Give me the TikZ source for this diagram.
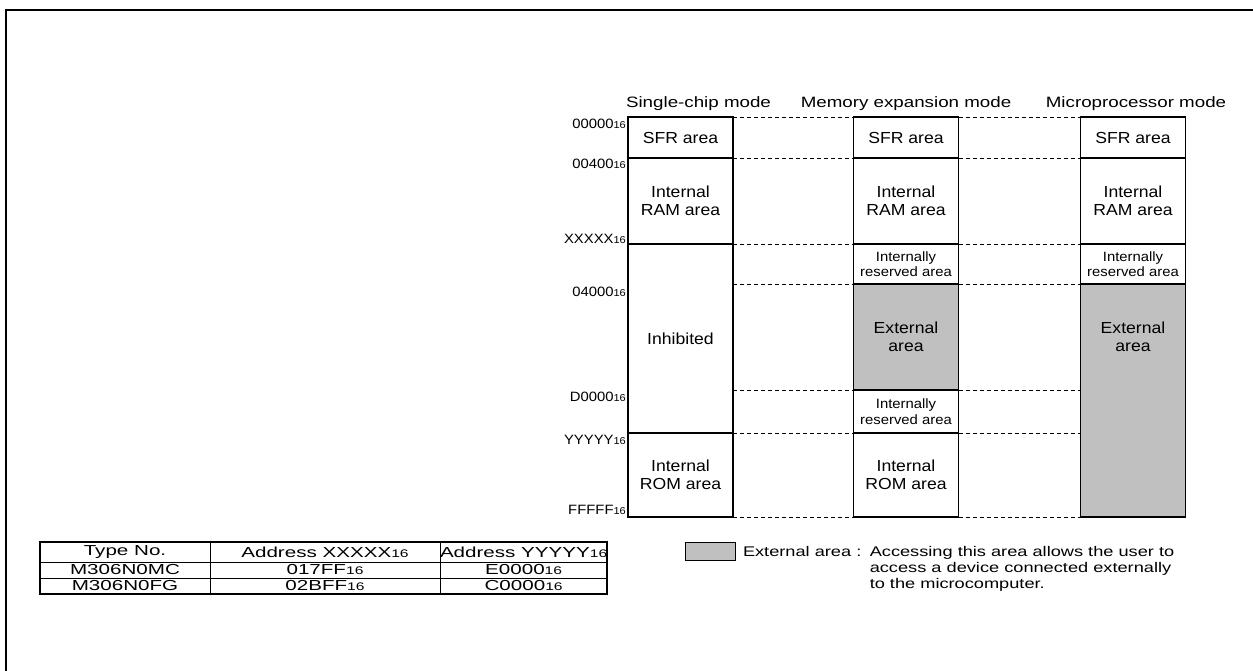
\documentclass[tikz,border=0pt]{standalone}
\usepackage{fontspec}
\setmainfont{Liberation Sans}[FakeStretch=1.1]
\newfontfamily\hdrfont{Liberation Sans}[FakeStretch=1.25]
\newfontfamily\tablefont{Liberation Sans}[FakeStretch=1.42]
\newfontfamily\keyfont{Liberation Sans}[FakeStretch=1.3]
\usetikzlibrary{positioning}
\definecolor{extgray}{RGB}{192,192,192}
\newcommand{\sixteen}[1][10]{{\fontsize{#1}{#1}\selectfont 16}}

\begin{document}
\begin{tikzpicture}[
    x=1pt, y=-1pt,
    cell/.style={draw, line width=1.2pt, outer sep=0pt, inner sep=0pt,
                 minimum width=105pt, align=center,
                 font=\fontsize{16}{18}\selectfont},
    rescell/.style={cell, font=\fontsize{13.5}{15.5}\selectfont},
    extcell/.style={cell, fill=extgray},
    guide/.style={dashed, dash pattern=on 4pt off 3pt, line width=0.6pt},
    addr/.style={anchor=east, inner sep=0pt, font=\fontsize{13.5}{13.5}\selectfont},
    hdr/.style={anchor=base, inner sep=0pt, font=\hdrfont\fontsize{15}{15}\selectfont},
    tcell/.style={draw, line width=0.8pt, outer sep=0pt, inner sep=0pt,
                  font=\tablefont\fontsize{14.5}{14.5}\selectfont},
    keytext/.style={inner sep=0pt, font=\keyfont\fontsize{14}{16}\selectfont},
]
\useasboundingbox (0,0) rectangle (1253,671);

% frame
\draw[line width=2pt] (6,671) -- (6,10) -- (1253,10);

% single-chip mode
\node[cell, minimum height=41pt] (sfr1) at (680.5,137.5) {SFR area};
\node[cell, minimum height=86pt, below=0pt of sfr1] (ram1) {Internal\\RAM area};
\node[cell, minimum height=189pt, below=0pt of ram1] (inh1) {Inhibited};
\node[cell, minimum height=84pt, below=0pt of inh1] (rom1) {Internal\\ROM area};

% memory expansion mode
\node[cell, minimum height=41pt, right=120.5pt of sfr1] (sfr2) {SFR area};
\node[cell, minimum height=86pt, below=0pt of sfr2] (ram2) {Internal\\RAM area};
\node[rescell, minimum height=40pt, below=0pt of ram2] (res2a) {Internally\\reserved area};
\node[extcell, minimum height=106pt, below=0pt of res2a] (ext2) {External\\area};
\node[rescell, minimum height=43pt, below=0pt of ext2] (res2b) {Internally\\reserved area};
\node[cell, minimum height=84pt, below=0pt of res2b] (rom2) {Internal\\ROM area};

% microprocessor mode
\node[cell, minimum height=41pt, right=122pt of sfr2] (sfr3) {SFR area};
\node[cell, minimum height=86pt, below=0pt of sfr3] (ram3) {Internal\\RAM area};
\node[rescell, minimum height=40pt, below=0pt of ram3] (res3) {Internally\\reserved area};
\node[extcell, minimum height=233pt, below=0pt of res3] (ext3) {};
\node[align=center, inner sep=0pt, font=\fontsize{16}{18}\selectfont] (ext3txt)
    at (ext3.north |- ext2) {External\\area};

% mode titles
\node[hdr] (hdr1) at ([xshift=18pt, yshift=9pt]sfr1.north) {Single-chip mode};
\node[hdr] (hdr2) at ([yshift=9pt]sfr2.north) {Memory expansion mode};
\node[hdr] (hdr3) at ([xshift=3pt, yshift=9pt]sfr3.north) {Microprocessor mode};

% addresses
\node[addr] (a00000) at ([xshift=-2pt, yshift=-7pt]sfr1.north west) {00000\sixteen};
\node[addr] (a00400) at ([xshift=-2pt, yshift=-6pt]ram1.north west) {00400\sixteen};
\node[addr] (axxxxx) at ([xshift=-2pt, yshift=5pt]inh1.north west) {XXXXX\sixteen};
\node[addr] (a04000) at ([xshift=-2pt, yshift=-8pt]inh1.west |- ext2.north) {04000\sixteen};
\node[addr] (ad0000) at ([xshift=-2pt, yshift=-7pt]inh1.west |- res2b.north) {D0000\sixteen};
\node[addr] (ayyyyy) at ([xshift=-2pt, yshift=-7pt]rom1.north west) {YYYYY\sixteen};
\node[addr] (afffff) at ([xshift=-2pt, yshift=7pt]rom1.south west) {FFFFF\sixteen};

% boundaries between the modes
\draw[guide] (sfr1.north east) -- (sfr2.north west);
\draw[guide] (sfr2.north east) -- (sfr3.north west);
\draw[guide] (ram1.north east) -- (ram2.north west);
\draw[guide] (ram2.north east) -- (ram3.north west);
\draw[guide] (inh1.north east) -- (res2a.north west);
\draw[guide] (res2a.north east) -- (res3.north west);
\draw[guide] (inh1.east |- ext2.north) -- (ext2.north west);
\draw[guide] (ext2.north east) -- (ext3.north west);
\draw[guide] (inh1.east |- res2b.north) -- (res2b.north west);
\draw[guide] (res2b.north east) -- (ext3.west |- res2b.north);
\draw[guide] (rom1.north east) -- (rom2.north west);
\draw[guide] (rom2.north east) -- (ext3.west |- rom2.north);
\draw[guide] (rom1.south east) -- (rom2.south west);
\draw[guide] (rom2.south east) -- (ext3.south west);

% type table
\node[tcell, minimum width=170pt, minimum height=20pt, anchor=north west] (tno) at (40,542) {Type No.};
\node[tcell, minimum width=230pt, minimum height=20pt, right=0pt of tno] (txh) {Address XXXXX\sixteen[11]};
\node[tcell, minimum width=167pt, minimum height=20pt, right=0pt of txh] (tyh) {Address YYYYY\sixteen[11]};
\node[tcell, minimum width=170pt, minimum height=16pt, below=0pt of tno] (mc) {M306N0MC};
\node[tcell, minimum width=230pt, minimum height=16pt, below=0pt of txh] (mcx) {017FF\sixteen[11]};
\node[tcell, minimum width=167pt, minimum height=16pt, below=0pt of tyh] (mcy) {E0000\sixteen[11]};
\node[tcell, minimum width=170pt, minimum height=16pt, below=0pt of mc] (fg) {M306N0FG};
\node[tcell, minimum width=230pt, minimum height=16pt, below=0pt of mcx] (fgx) {02BFF\sixteen[11]};
\node[tcell, minimum width=167pt, minimum height=16pt, below=0pt of mcy] (fgy) {C0000\sixteen[11]};
\draw[line width=1.4pt] (tno.north west) rectangle (fgy.south east);

% legend
\node[draw, fill=extgray, line width=0.8pt, minimum width=50pt, minimum height=18pt,
      inner sep=0pt, anchor=north west] (key) at (685,542) {};
\node[keytext, right=7pt of key] (keylbl) {External area :};
\node[keytext, align=left, anchor=north west] (keytxt) at ([xshift=8pt]keylbl.north east)
    {Accessing this area allows the user to\\access a device connected externally\\to the microcomputer.};

\end{tikzpicture}
\end{document}
